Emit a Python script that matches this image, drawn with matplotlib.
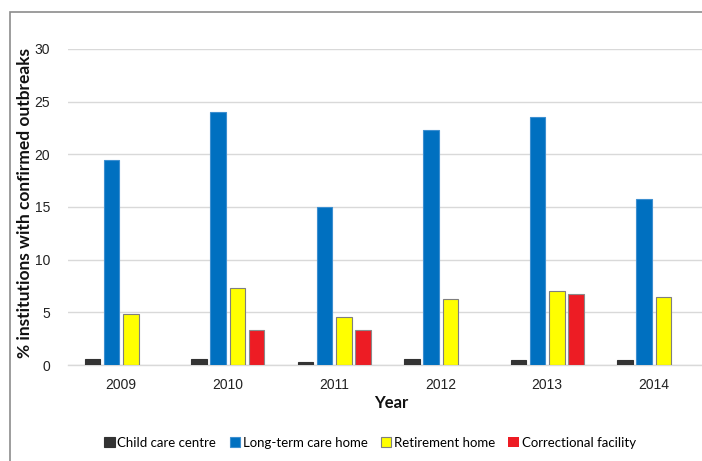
import matplotlib
matplotlib.use("Agg")
import matplotlib.pyplot as plt
import numpy as np
from matplotlib.patches import Rectangle

years = ["2009", "2010", "2011", "2012", "2013", "2014"]
child_care = [0.6, 0.6, 0.3, 0.6, 0.5, 0.5]
long_term = [19.5, 24.0, 15.0, 22.3, 23.5, 15.8]
retirement = [4.8, 7.3, 4.6, 6.3, 7.0, 6.5]
correctional = [0.0, 3.3, 3.3, 0.0, 6.7, 0.0]
series_names = ["Child care centre", "Long-term care home", "Retirement home", "Correctional facility"]
yticks = [0, 5, 10, 15, 20, 25, 30]

W, H = 702, 461
fig = plt.figure(figsize=(W / 100, H / 100), dpi=100)
fig.patch.set_facecolor("white")

# border
fig.add_artist(Rectangle((10 / W, -0.2), 1.5, (H - 12) / H + 0.2, transform=fig.transFigure,
                         fill=False, edgecolor="#8c8c8c", linewidth=1.2))

left, right = 68, 707
bottom, top = 365, 49
ax = fig.add_axes([left / W, (H - bottom) / H, (right - left) / W, (bottom - top) / H])

x = np.arange(len(years))
step = 0.179
bw = 0.146
colors = ["#333333", "#0070C0", "#FFFF00", "#ED1C24"]
edges = ["#333333", "#3d8fd0", "#7f7f7f", "#8a8a8a"]
data = [child_care, long_term, retirement, correctional]
handles = []
for i, (vals, c, e, name) in enumerate(zip(data, colors, edges, series_names)):
    offs = (i - 1.5) * step
    lws = [0.8 if v > 0 else 0 for v in vals]
    b = ax.bar(x + offs, vals, width=bw, color=c, edgecolor=e, linewidth=lws, label=name, zorder=3)
    handles.append(b)

ax.set_xlim(-0.5, len(years) - 0.5)
ax.set_ylim(0, 30)
ax.set_yticks(yticks)
ax.set_yticklabels([str(t) for t in yticks], fontsize=10, family="Liberation Sans", color="#222222")
ax.set_xticks(x)
ax.set_xticklabels(years, fontsize=10, family="Liberation Sans", color="#222222")
ax.tick_params(axis="both", length=0)
ax.tick_params(axis="y", pad=13)
ax.tick_params(axis="x", pad=9)
ax.grid(axis="y", color="#d9d9d9", linewidth=1.0, zorder=0)
ax.set_axisbelow(True)
for s in ["left", "right", "top"]:
    ax.spines[s].set_visible(False)
ax.spines["bottom"].set_color("#d9d9d9")
ax.spines["bottom"].set_linewidth(1.0)

fig.text(25 / W, (H - 203) / H, "% institutions with confirmed outbreaks", rotation=90,
         ha="center", va="center", fontsize=12.5, fontweight="bold", family="Lato", color="#111111")
fig.text(391 / W, (H - 403) / H, "Year", ha="center", va="center", fontsize=12,
         fontweight="bold", family="Lato", color="#111111")

leg = fig.legend(handles=handles, labels=series_names, loc="center", bbox_to_anchor=(370 / W, (H - 443) / H),
                 ncol=4, frameon=False, prop={"family": "Lato", "size": 9.5},
                 handlelength=0.8, handleheight=0.8, handletextpad=0.2, columnspacing=1.0)

fig.savefig("out.png", dpi=100)
